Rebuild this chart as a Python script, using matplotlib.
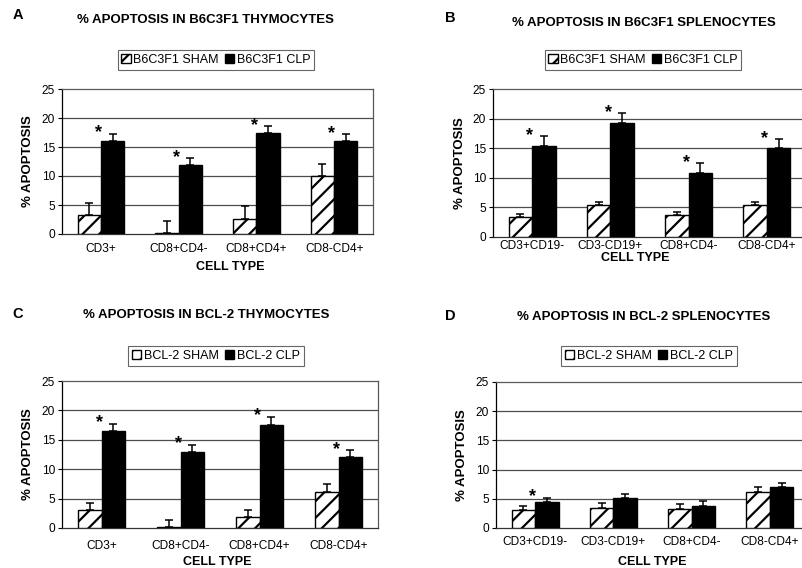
import numpy as np
import matplotlib
matplotlib.use("Agg")
import matplotlib.pyplot as plt

plt.rcParams['font.family'] = ['Liberation Sans', 'DejaVu Sans']
plt.rcParams['hatch.linewidth'] = 1.6

# data
thymo_types = ["CD3+", "CD8+CD4-", "CD8+CD4+", "CD8-CD4+"]
spleno_types = ["CD3+CD19-", "CD3-CD19+", "CD8+CD4-", "CD8-CD4+"]

a_sham = [3.2, 0.1, 2.6, 10.0]
a_sham_err = [2.2, 2.2, 2.2, 2.1]
a_clp = [16.1, 11.9, 17.5, 16.1]
a_clp_err = [1.2, 1.2, 1.1, 1.1]
a_star = [True, True, True, True]

b_sham = [3.4, 5.4, 3.8, 5.4]
b_sham_err = [0.5, 0.5, 0.5, 0.5]
b_clp = [15.3, 19.2, 10.8, 15.0]
b_clp_err = [1.7, 1.7, 1.7, 1.6]
b_star = [True, True, True, True]

c_sham = [3.0, 0.15, 1.9, 6.2]
c_sham_err = [1.3, 1.25, 1.2, 1.3]
c_clp = [16.5, 12.9, 17.6, 12.0]
c_clp_err = [1.25, 1.3, 1.35, 1.3]
c_star = [True, True, True, True]

d_sham = [3.1, 3.5, 3.3, 6.2]
d_sham_err = [0.7, 0.7, 0.8, 0.85]
d_clp = [4.5, 5.1, 3.8, 7.0]
d_clp_err = [0.7, 0.75, 0.75, 0.7]
d_star = [True, False, False, False]

W, H = 802, 568
fig = plt.figure(figsize=(W / 100, H / 100), dpi=100)


def px_axes(l, t, r, b):
    return fig.add_axes([l / W, 1 - b / H, (r - l) / W, (b - t) / H])


def panel(box, letter, letter_xy, title, title_xy, legend_xy, names, cats,
          sham, sham_err, clp, clp_err, stars, xlab_xy, ylab_x, xpad):
    ax = px_axes(*box)
    x = np.arange(len(cats))
    w = 0.3
    ax.bar(x - w / 2, sham, w, color='white', edgecolor='black', hatch='//',
           linewidth=1.0, label=names[0], zorder=3)
    ax.bar(x + w / 2, clp, w, color='black', edgecolor='black',
           linewidth=1.0, label=names[1], zorder=3)
    ax.errorbar(x - w / 2, sham, yerr=[np.zeros(len(sham)), sham_err], fmt='none',
                ecolor='black', elinewidth=1.1, capsize=2.6, capthick=1.1, zorder=4)
    ax.errorbar(x + w / 2, clp, yerr=[np.zeros(len(clp)), clp_err], fmt='none',
                ecolor='black', elinewidth=1.1, capsize=2.6, capthick=1.1, zorder=4)
    for i, s in enumerate(stars):
        if s:
            ax.text(x[i] - 0.03, clp[i] + clp_err[i] + 0.1, '*', ha='center',
                    va='center', fontsize=13, fontweight='bold', zorder=5)
    ax.set_xlim(-0.5, len(cats) - 0.5)
    ax.set_ylim(0, 25)
    ax.set_yticks([0, 5, 10, 15, 20, 25])
    ax.tick_params(axis='y', labelsize=8.6, length=3, width=0.8, pad=2)
    ax.set_xticks(x)
    ax.set_xticklabels(cats)
    ax.tick_params(axis='x', labelsize=8.6, length=0, pad=xpad)
    for g in [5, 10, 15, 20]:
        ax.axhline(g, color='0.3', linewidth=0.9, zorder=1)
    for sp in ax.spines.values():
        sp.set_color('0.35')
        sp.set_linewidth(0.9)
    ax.spines['left'].set_color('black')
    ax.spines['bottom'].set_color('0.2')

    fig.text(ylab_x / W, 1 - (box[1] + box[3]) / 2 / H, '% APOPTOSIS', rotation=90,
             ha='center', va='center', fontsize=9.5, fontweight='bold')
    fig.text(xlab_xy[0] / W, 1 - xlab_xy[1] / H, 'CELL TYPE',
             ha='center', va='center', fontsize=9, fontweight='bold')
    fig.text(letter_xy[0] / W, 1 - letter_xy[1] / H, letter, ha='center', va='center',
             fontsize=10.5, fontweight='bold')
    fig.text(title_xy[0] / W, 1 - title_xy[1] / H, title, ha='center', va='center',
             fontsize=9.5, fontweight='bold')
    leg = ax.legend(loc='center', bbox_to_anchor=(legend_xy[0] / W, 1 - legend_xy[1] / H),
                    bbox_transform=fig.transFigure, ncol=2, fontsize=9,
                    frameon=True, fancybox=False, edgecolor='0.25', handlelength=0.75,
                    handleheight=0.75, handletextpad=0.2, columnspacing=0.5,
                    borderpad=0.3, borderaxespad=0)
    leg.get_frame().set_linewidth(0.8)
    return ax


panel((62, 89, 373, 234), 'A', (18, 15), '% APOPTOSIS IN B6C3F1 THYMOCYTES', (205, 20),
      (216, 60), ['B6C3F1 SHAM', 'B6C3F1 CLP'], thymo_types,
      a_sham, a_sham_err, a_clp, a_clp_err, a_star, (230, 267), 28, 6.5)
panel((493, 89, 806, 237), 'B', (450, 18), '% APOPTOSIS IN B6C3F1 SPLENOCYTES', (644, 23),
      (643, 60), ['B6C3F1 SHAM', 'B6C3F1 CLP'], spleno_types,
      b_sham, b_sham_err, b_clp, b_clp_err, b_star, (635, 258), 460, 2.5)
panel((62, 381, 378, 528), 'C', (18, 314), '% APOPTOSIS IN BCL-2 THYMOCYTES', (206, 315),
      (216, 356), ['BCL-2 SHAM', 'BCL-2 CLP'], thymo_types,
      c_sham, c_sham_err, c_clp, c_clp_err, c_star, (217, 562), 28, 8.5)
panel((496, 382, 809, 528), 'D', (450, 316), '% APOPTOSIS IN BCL-2 SPLENOCYTES', (644, 317),
      (649, 356), ['BCL-2 SHAM', 'BCL-2 CLP'], spleno_types,
      d_sham, d_sham_err, d_clp, d_clp_err, d_star, (652, 562), 462, 5.5)

fig.savefig('out.png', dpi=100)
